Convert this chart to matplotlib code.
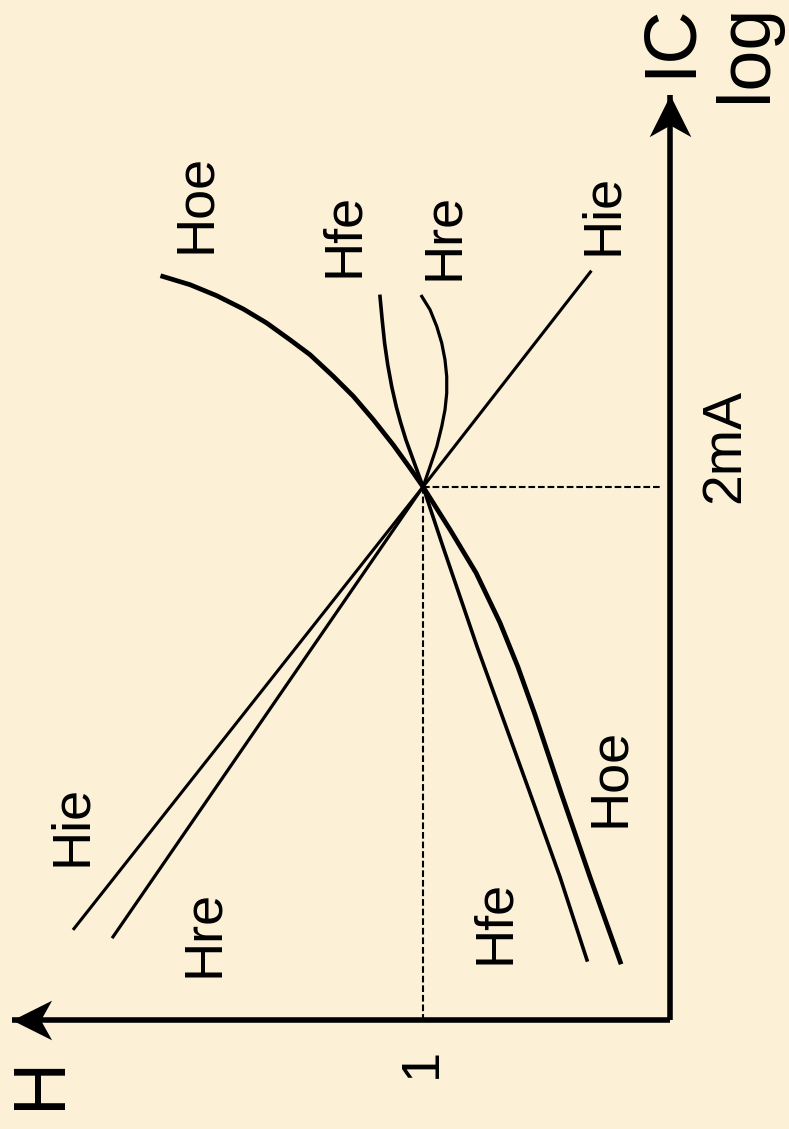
import matplotlib
matplotlib.use('Agg')
import matplotlib.pyplot as plt
from matplotlib.path import Path

# h-parameters of a transistor vs collector current (log-log, normalised to 1 at 2 mA)
HIE_IC = [0.044, 2.0, 12.8]
HIE_H  = [25.9, 1.0, 0.21]

HRE_IC = [0.041, 2.0, 2.38, 2.83, 3.37, 3.89, 4.49, 5.19, 5.99, 6.92, 7.99, 9.23, 10.36]
HRE_H  = [18.0, 1.0, 0.937, 0.880, 0.840, 0.815, 0.802, 0.802, 0.815, 0.840, 0.880, 0.937, 1.012]

HFE_IC = [0.0336, 0.0688, 0.142, 0.502, 0.773, 1.19, 2.0,
          2.60, 3.00, 3.48, 3.99, 4.75, 5.74, 6.92, 8.47, 10.36]
HFE_H  = [0.217, 0.279, 0.369, 0.604, 0.708, 0.830, 1.0,
          1.109, 1.173, 1.232, 1.283, 1.339, 1.390, 1.431, 1.464, 1.494]

HOE_IC = [0.033, 0.0688, 0.142, 0.279, 0.422, 0.618, 0.951, 1.38, 2.0,
          2.35, 2.87, 3.57, 4.37, 5.19, 6.26, 7.12, 8.23, 9.29, 10.42, 11.46, 12.31]
HOE_H  = [0.159, 0.211, 0.276, 0.352, 0.413, 0.488, 0.610, 0.777, 1.0,
          1.129, 1.319, 1.589, 1.915, 2.307, 2.868, 3.456, 4.295, 5.341, 6.842, 8.777, 11.32]

IC_REF = 2.0      # mA, where all curves meet
H_REF  = 1.0
IC_AXIS = (0.02, 59.0)
H_AXIS  = (0.1, 46.0)

BG = '#fcf0d6'
plt.rcParams['font.family'] = ['Liberation Sans', 'DejaVu Sans']

fig = plt.figure(figsize=(7.89, 11.29), dpi=100, facecolor=BG)
ax = fig.add_axes([0, 0, 1, 1])
ax.set_facecolor(BG)
ax.set_xscale('log')
ax.set_yscale('log')
# drawn turned on its side: IC runs upward, H runs to the left
ax.set_xlim(51.6, 0.033)
ax.set_ylim(0.0078, 134)
ax.axis('off')

# axes with stealth arrow heads
up_head = Path([(0, 0), (-0.5, -1), (0, -0.72), (0.5, -1), (0, 0)],
               [Path.MOVETO, Path.LINETO, Path.LINETO, Path.LINETO, Path.CLOSEPOLY])
left_head = Path([(0, 0), (1, 0.5), (0.72, 0), (1, -0.5), (0, 0)],
                 [Path.MOVETO, Path.LINETO, Path.LINETO, Path.LINETO, Path.CLOSEPOLY])
ax.plot([H_AXIS[0], H_AXIS[0]], IC_AXIS, color='black', lw=4, solid_capstyle='butt')
ax.plot(H_AXIS, [IC_AXIS[0], IC_AXIS[0]], color='black', lw=4, solid_capstyle='butt')
ax.plot(H_AXIS[0], IC_AXIS[1], marker=up_head, ms=60, color='black', mew=0)
ax.plot(H_AXIS[1], IC_AXIS[0], marker=left_head, ms=57, color='black', mew=0)

# guide lines from the common point to both axes
dash = (0, (3.2, 1.4))
ax.plot([H_REF, H_REF], [IC_REF, IC_AXIS[0]], color='black', lw=1.5, ls=dash)
ax.plot([H_REF, 0.11], [IC_REF, IC_REF], color='black', lw=1.5, ls=dash)

ax.plot(HIE_H, HIE_IC, color='black', lw=2.2)
ax.plot(HRE_H, HRE_IC, color='black', lw=2.3, solid_joinstyle='round')
ax.plot(HFE_H, HFE_IC, color='black', lw=2.6, solid_joinstyle='round')
ax.plot(HOE_H, HOE_IC, color='black', lw=3.4, solid_joinstyle='round')

W, H = 789.0, 1129.0
labels = [
    ('Hoe', 210, 203, 39), ('Hfe', 358, 235, 39), ('Hre', 458, 236, 39),
    ('Hie', 617, 214, 39), ('Hie', 86, 825, 39), ('Hre', 218, 933, 39),
    ('Hfe', 509, 922, 39), ('Hoe', 624, 777, 39), ('2mA', 739, 446, 40),
    ('1', 436, 1063, 39), ('IC', 690, 40, 53), ('log', 766, 53, 53),
    ('H', 60, 1082, 53),
]
for txt, bx, cy, size in labels:
    ax.text(bx / W, 1 - cy / H, txt, transform=ax.transAxes, fontsize=size,
            rotation=90, rotation_mode='anchor', ha='center', va='baseline')

fig.savefig('out.png', dpi=100, facecolor=BG)
